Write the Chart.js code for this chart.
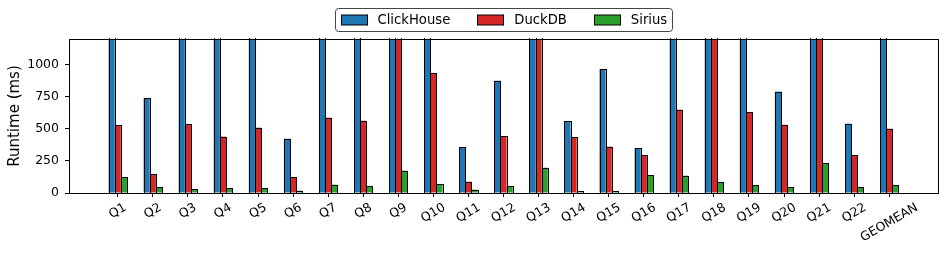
<!DOCTYPE html>
<html>
<head>
<meta charset="utf-8">
<script src="https://cdn.jsdelivr.net/npm/chart.js@4.4.1/dist/chart.umd.min.js"></script>
<style>
  html, body { margin: 0; padding: 0; background: #fff; }
  #wrap { width: 946px; height: 255px; position: relative; }
</style>
</head>
<body>
<div id="wrap"><canvas id="c" width="946" height="255"></canvas></div>
<script>
// ---- data ----
const categories = ['Q1','Q2','Q3','Q4','Q5','Q6','Q7','Q8','Q9','Q10','Q11','Q12','Q13','Q14','Q15','Q16','Q17','Q18','Q19','Q20','Q21','Q22','GEOMEAN'];
const clickhouse = [2400, 740, 1900, 1500, 1800, 423, 1700, 2200, 3500, 2600, 355, 875, 2800, 561, 966, 348, 1600, 4200, 2000, 790, 5000, 540, 1400];
const duckdb     = [530, 145, 538, 439, 509, 122, 587, 563, 1800, 935, 88, 441, 2400, 434, 361, 296, 649, 3100, 628, 532, 2200, 293, 501];
const sirius     = [125, 47, 31, 39, 39, 18, 65, 55, 174, 70, 26, 52, 197, 16, 16, 137, 135, 86, 62, 47, 231, 47, 59];
const seriesNames = ['ClickHouse', 'DuckDB', 'Sirius'];
const yTicks = [0, 250, 500, 750, 1000];
const yMax = 1200;

const colors = ['#1f77b4', '#d62728', '#2ca02c'];
const FONT = '"DejaVu Sans", "Liberation Sans", sans-serif';

Chart.defaults.color = '#000';
Chart.defaults.font.family = FONT;
Chart.defaults.animation = false;

function toPoints(arr) { return arr.map((v, i) => ({ x: i, y: v })); }

const series = [clickhouse, duckdb, sirius];
const datasets = series.map((arr, k) => ({
  label: seriesNames[k],
  data: toPoints(arr),
  backgroundColor: colors[k],
  borderWidth: 0,
  categoryPercentage: 0.525,
  barPercentage: 1.0,
  clip: 0
}));

// crisp bar edges (like matplotlib edgecolor) + axes frame
const framePlugin = {
  id: 'frame',
  afterDatasetsDraw(chart) {
    const { ctx, chartArea: a } = chart;
    ctx.save();
    ctx.beginPath();
    ctx.rect(a.left, a.top - 1, a.right - a.left, a.bottom - a.top + 2);
    ctx.clip();
    ctx.strokeStyle = '#000';
    ctx.lineWidth = 1;
    chart.data.datasets.forEach((ds, di) => {
      const meta = chart.getDatasetMeta(di);
      meta.data.forEach(el => {
        const p = el.getProps(['x', 'y', 'base', 'width'], true);
        const l = Math.round(p.x - p.width / 2) + 0.5;
        const r = Math.round(p.x + p.width / 2) + 0.5;
        const t = Math.round(Math.max(p.y, a.top - 2)) + 0.5;
        const b = Math.round(p.base) + 0.5;
        ctx.strokeRect(l, t, r - l, b - t);
      });
    });
    ctx.restore();
    ctx.save();
    ctx.strokeStyle = '#000';
    ctx.lineWidth = 1;
    const l = Math.round(a.left) + 0.5, t = Math.round(a.top) + 0.5;
    const r = Math.round(a.right) + 0.5, b = Math.round(a.bottom) + 0.5;
    ctx.strokeRect(l, t, r - l, b - t);
    ctx.restore();
  }
};

const xLabelPlugin = {
  id: 'xlabels',
  afterDraw(chart) {
    const { ctx } = chart;
    const xs = chart.scales.x;
    const fs = 12.5;
    const ang = Math.PI / 6;
    ctx.save();
    ctx.font = fs + 'px ' + FONT;
    ctx.fillStyle = '#000';
    ctx.textAlign = 'center';
    ctx.textBaseline = 'middle';
    const top = chart.chartArea.bottom + 7.5;
    categories.forEach((lab, i) => {
      const L = ctx.measureText(lab).width;
      const h = fs * 1.17;
      const H = L * Math.sin(ang) + h * Math.cos(ang);
      const cx = xs.getPixelForValue(i);
      const cy = top + H / 2;
      ctx.save();
      ctx.translate(cx, cy);
      ctx.rotate(-ang);
      ctx.fillText(lab, 0, 0);
      ctx.restore();
    });
    ctx.restore();
  }
};

const legendPlugin = {
  id: 'customLegend',
  afterDraw(chart) {
    const { ctx, chartArea: a } = chart;
    const fs = 13.2;
    ctx.save();
    ctx.font = fs + 'px ' + FONT;
    const sw = 26, sh = 10, gapText = 11, gapItem = 27, pad = 5;
    const widths = seriesNames.map(n => ctx.measureText(n).width);
    let total = pad * 2;
    widths.forEach((w, i) => { total += sw + gapText + w + (i < widths.length - 1 ? gapItem : 0); });
    const cx = (a.left + a.right) / 2;
    const bx = Math.round(cx - total / 2) + 0.5;
    const by = 8.5, bh = 23;
    ctx.fillStyle = 'rgba(255,255,255,0.8)';
    ctx.strokeStyle = '#444';
    ctx.lineWidth = 1;
    ctx.beginPath();
    ctx.roundRect(bx, by, Math.round(total), bh, 3);
    ctx.fill();
    ctx.stroke();
    let x = bx + pad;
    const midY = by + bh / 2;
    seriesNames.forEach((n, i) => {
      const sx = Math.round(x) + 0.5;
      ctx.fillStyle = colors[i];
      ctx.fillRect(sx, midY - sh / 2, sw, sh);
      ctx.strokeStyle = '#000';
      ctx.strokeRect(sx, midY - sh / 2, sw, sh);
      ctx.fillStyle = '#000';
      ctx.textAlign = 'left';
      ctx.textBaseline = 'middle';
      ctx.fillText(n, x + sw + gapText, midY + 0.5);
      x += sw + gapText + widths[i] + gapItem;
    });
    ctx.restore();
  }
};

new Chart(document.getElementById('c'), {
  type: 'bar',
  data: { datasets },
  plugins: [framePlugin, xLabelPlugin, legendPlugin],
  options: {
    responsive: false,
    maintainAspectRatio: false,
    layout: { padding: { top: 39, right: 8, left: 0, bottom: 0 } },
    plugins: { legend: { display: false }, tooltip: { enabled: false } },
    scales: {
      x: {
        type: 'linear',
        min: -1.39,
        max: 23.39,
        offset: false,
        afterBuildTicks(scale) { scale.ticks = categories.map((_, i) => ({ value: i })); },
        afterFit(scale) { scale.height = 62; },
        ticks: { display: false },
        grid: { display: true, drawOnChartArea: false, drawTicks: true, tickLength: 4, color: '#000', offset: false },
        border: { display: false }
      },
      y: {
        min: 0,
        max: yMax,
        afterBuildTicks(scale) { scale.ticks = yTicks.map(v => ({ value: v })); },
        afterFit(scale) { scale.width = 69; },
        ticks: { font: { size: 12.5, family: FONT }, color: '#000', padding: 6, callback: v => String(v) },
        grid: { display: true, drawOnChartArea: false, drawTicks: true, tickLength: 4, color: '#000' },
        border: { display: false },
        title: { display: true, text: 'Runtime (ms)', font: { size: 15, family: FONT }, color: '#000', padding: { top: 6, bottom: 0 } }
      }
    }
  }
});
</script>
</body>
</html>
